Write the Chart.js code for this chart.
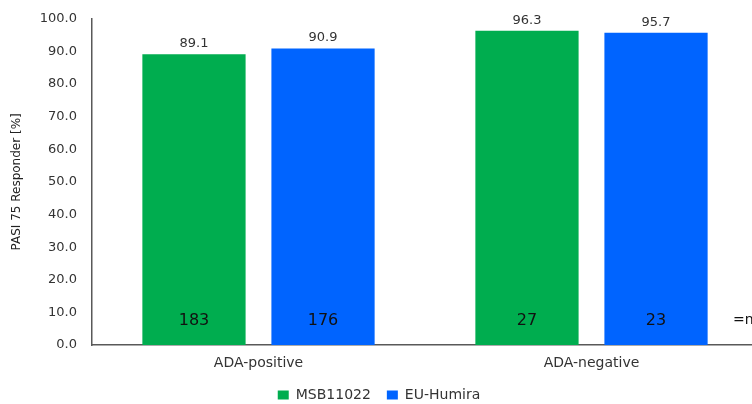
<!DOCTYPE html>
<html>
<head>
<meta charset="utf-8">
<script src="https://cdn.jsdelivr.net/npm/chart.js@4/dist/chart.umd.min.js"></script>
<style>
  html, body { margin: 0; padding: 0; background: #fff; overflow: hidden; }
  #wrap { width: 758px; height: 404px; }
</style>
</head>
<body>
<div id="wrap"><canvas id="chart"></canvas></div>
<script>
const groups = ['ADA-positive', 'ADA-negative'];
const seriesNames = ['MSB11022', 'EU-Humira'];
const msbValues = [89.1, 96.3];
const humiraValues = [90.9, 95.7];
const msbCounts = [183, 27];
const humiraCounts = [176, 23];
const yTicks = [0, 10, 20, 30, 40, 50, 60, 70, 80, 90, 100];

const font = 'DejaVu Sans';

// value on top of each bar, n inside near the base, "=n" at the right edge
const barText = {
  id: 'barText',
  afterDatasetsDraw(chart) {
    const ctx = chart.ctx;
    const y = chart.scales.y;
    const counts = [msbCounts, humiraCounts];
    ctx.save();
    ctx.textAlign = 'center';
    chart.data.datasets.forEach((ds, i) => {
      chart.getDatasetMeta(i).data.forEach((bar, j) => {
        ctx.font = '13px "' + font + '"';
        ctx.fillStyle = '#333';
        ctx.textBaseline = 'bottom';
        ctx.fillText(ds.data[j].toFixed(1), bar.x, bar.y - 4);
        ctx.font = '16px "' + font + '"';
        ctx.fillStyle = '#111';
        ctx.textBaseline = 'middle';
        ctx.fillText(counts[i][j], bar.x, y.getPixelForValue(7.5));
      });
    });
    ctx.textAlign = 'left';
    ctx.font = '14px "' + font + '"';
    ctx.fillText('=n', chart.chartArea.right - 25, y.getPixelForValue(7.5));
    ctx.restore();
  }
};

new Chart(document.getElementById('chart').getContext('2d'), {
  type: 'bar',
  data: {
    labels: groups,
    datasets: [{
      label: seriesNames[0],
      data: msbValues,
      backgroundColor: '#00ad4f',
      categoryPercentage: 0.775,
      barPercentage: 0.8,
    }, {
      label: seriesNames[1],
      data: humiraValues,
      backgroundColor: '#0064ff',
      categoryPercentage: 0.775,
      barPercentage: 0.8,
    }]
  },
  options: {
    responsive: true,
    maintainAspectRatio: false,
    animation: false,
    layout: { padding: { top: 14, left: 0, right: 0, bottom: 0 } },
    plugins: {
      tooltip: { enabled: false },
      legend: {
        position: 'bottom',
        maxHeight: 32,
        labels: {
          font: { family: font, size: 14 },
          color: '#333',
          boxWidth: 11,
          boxHeight: 9,
          padding: 16,
        }
      }
    },
    scales: {
      x: {
        grid: { display: false, drawTicks: false },
        border: { display: true, color: '#595959', width: 1.5 },
        ticks: { font: { family: font, size: 14 }, color: '#333', padding: 10 },
        afterFit(s) { s.height = 27; }
      },
      y: {
        min: 0,
        max: 100,
        afterBuildTicks(s) { s.ticks = yTicks.map(v => ({ value: v })); },
        grid: { display: false, drawTicks: true, tickLength: 4 },
        border: { display: true, color: '#595959', width: 1.5 },
        ticks: {
          font: { family: font, size: 13 },
          color: '#333',
          padding: 11,
          callback: v => v.toFixed(1)
        },
        title: {
          display: true,
          text: 'PASI 75 Responder [%]',
          font: { family: font, size: 12 },
          color: '#222',
          padding: { top: 10, bottom: 0 }
        },
        afterFit(s) { s.width = 92; }
      }
    }
  },
  plugins: [barText]
});
</script>
</body>
</html>
